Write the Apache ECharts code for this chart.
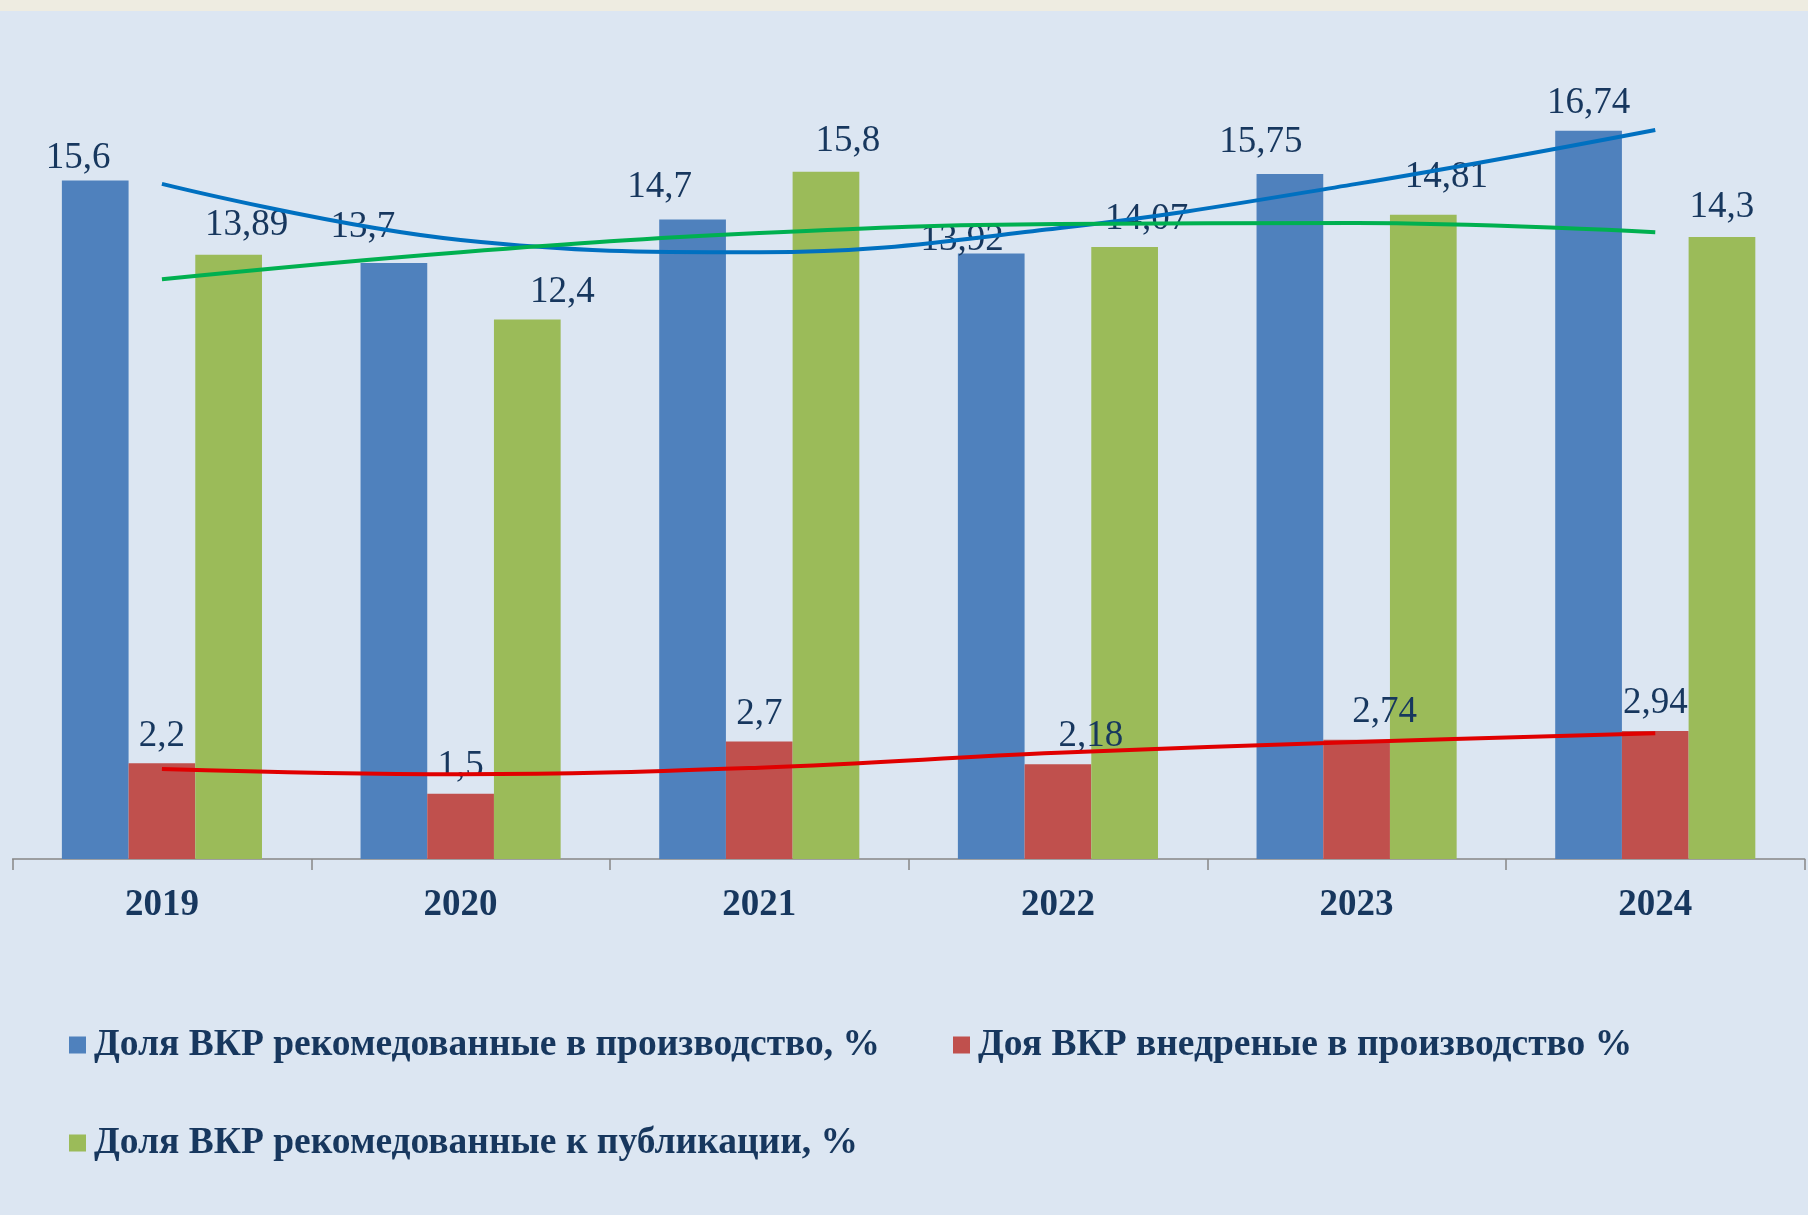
<!DOCTYPE html>
<html>
<head>
<meta charset="utf-8">
<script src="https://cdn.jsdelivr.net/npm/echarts@6/dist/echarts.min.js"></script>
<style>
  html, body { margin: 0; padding: 0; background: #dce6f2; }
  #chart { width: 1808px; height: 1215px; }
</style>
</head>
<body>
<div id="chart"></div>
<script>
// годы
const years = ['2019', '2020', '2021', '2022', '2023', '2024'];
// доли ВКР, %
const recommendedProduction = [15.6, 13.7, 14.7, 13.92, 15.75, 16.74];
const implementedProduction = [2.2, 1.5, 2.7, 2.18, 2.74, 2.94];
const recommendedPublication = [13.89, 12.4, 15.8, 14.07, 14.81, 14.3];
// линии тренда
const trendProduction = [15.52, 14.23, 13.95, 14.5, 15.52, 16.76];
const trendImplemented = [2.07, 1.95, 2.1, 2.44, 2.69, 2.89];
const trendPublication = [13.33, 13.95, 14.39, 14.6, 14.62, 14.41];

const names = [
  'Доля ВКР рекомедованные в производство, %',
  'Доя ВКР внедреные в производство %',
  'Доля ВКР рекомедованные к публикации, %'
];

// сдвиги подписей, как в оригинале
const nudgeBlue = [[-17, 5], [-31, -8], [-33, -5], [-29, 14], [-29, -4], [0, 0]];
const nudgeRed = [[0, 0], [0, 0], [0, 0], [33, 0], [28, 0], [0, 0]];
const nudgeGreen = [[18, -2], [35, 0], [22, -3], [22, 0], [23, -10], [0, -2]];

const textColor = '#17375e';
const serif = '"Liberation Serif", "Times New Roman", serif';

function fmt(v) {
  return String(v).replace('.', ',');
}

function barData(values, nudge) {
  return values.map(function (v, i) {
    return { value: v, label: { offset: nudge[i] } };
  });
}

function barSeries(name, values, nudge, color) {
  return {
    name: name,
    type: 'bar',
    data: barData(values, nudge),
    barGap: '0%',
    barCategoryGap: '33%',
    itemStyle: { color: color },
    label: {
      show: true,
      position: 'top',
      distance: 9,
      color: textColor,
      fontFamily: serif,
      fontSize: 37,
      formatter: function (p) { return fmt(p.value); }
    },
    z: 2
  };
}

function trendSeries(values, color) {
  return {
    type: 'line',
    data: values,
    smooth: 0.4,
    symbol: 'none',
    lineStyle: { color: color, width: 4 },
    silent: true,
    z: 6
  };
}

function legendFor(name, left, top) {
  return {
    data: [name],
    left: left,
    top: top,
    icon: 'rect',
    itemWidth: 17,
    itemHeight: 17,
    itemGap: 0,
    selectedMode: false,
    textStyle: {
      color: textColor,
      fontFamily: serif,
      fontWeight: 'bold',
      fontSize: 37.5,
      padding: [0, 0, 0, 3]
    }
  };
}

const chart = echarts.init(document.getElementById('chart'));
chart.setOption({
  backgroundColor: '#dce6f2',
  animation: false,
  graphic: [
    { type: 'rect', left: 0, top: 0, shape: { width: 1808, height: 11 }, style: { fill: '#eeece1' } }
  ],
  grid: { left: 12.6, right: 3.4, top: 76, bottom: 356, containLabel: false },
  legend: [
    legendFor(names[0], 64, 1021),
    legendFor(names[1], 948, 1021),
    legendFor(names[2], 64, 1119)
  ],
  xAxis: {
    type: 'category',
    data: years,
    axisLine: { show: true, lineStyle: { color: '#868686', width: 1.5 } },
    axisTick: { show: true, length: 11, lineStyle: { color: '#868686', width: 1.5 } },
    axisLabel: {
      color: textColor,
      fontFamily: serif,
      fontWeight: 'bold',
      fontSize: 37,
      margin: 28
    }
  },
  yAxis: {
    type: 'value',
    min: 0,
    max: 18,
    show: false,
    splitLine: { show: false }
  },
  series: [
    barSeries(names[0], recommendedProduction, nudgeBlue, '#4f81bd'),
    barSeries(names[1], implementedProduction, nudgeRed, '#c0504d'),
    barSeries(names[2], recommendedPublication, nudgeGreen, '#9bbb59'),
    trendSeries(trendProduction, '#0070c0'),
    trendSeries(trendImplemented, '#e00000'),
    trendSeries(trendPublication, '#00b050')
  ]
});
window.onresize = function () {
  chart.resize();
};
</script>
</body>
</html>
